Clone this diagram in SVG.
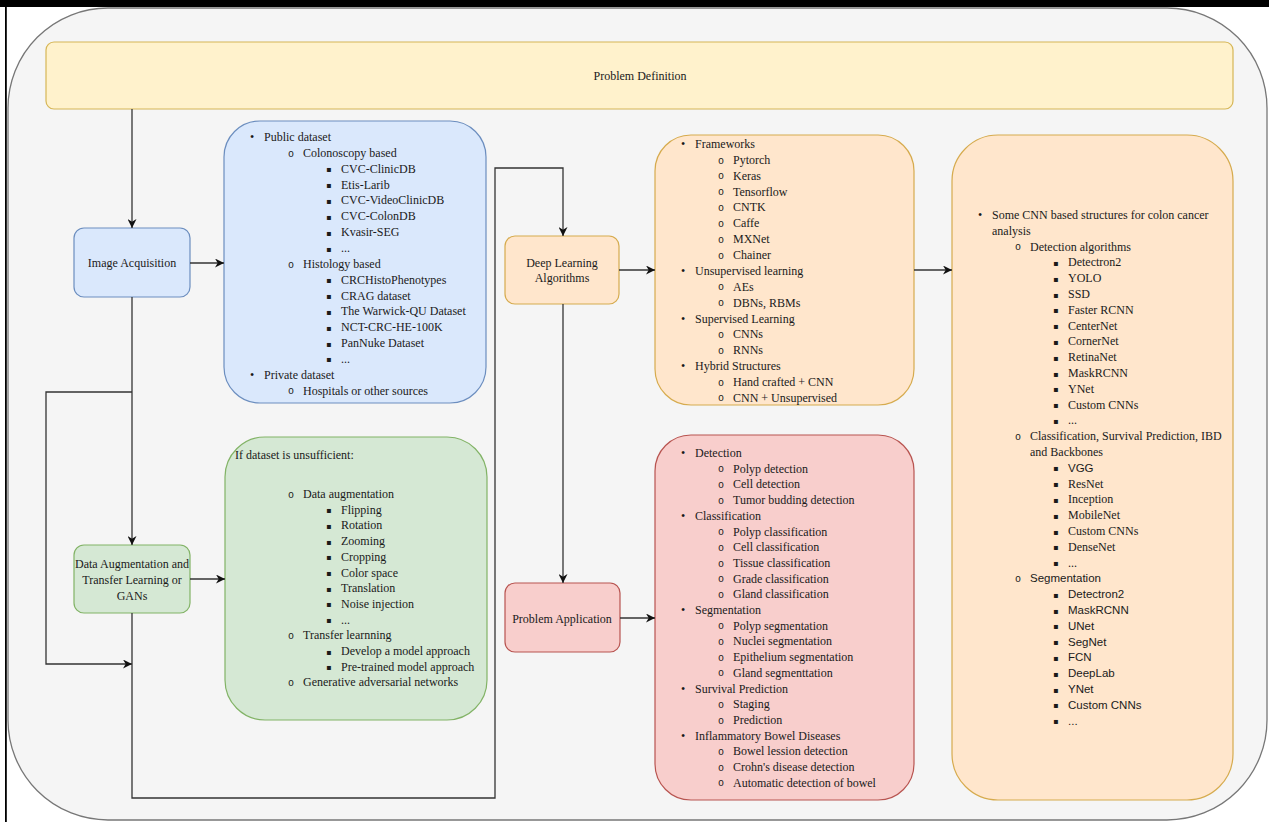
<svg xmlns="http://www.w3.org/2000/svg" width="1269" height="822" viewBox="0 0 1269 822">
<style>
.t{font-family:"Liberation Serif","Times New Roman",serif;font-size:12px;fill:#1a1a1a}
.s{font-family:"Liberation Sans",Arial,sans-serif;font-size:11.5px;fill:#1a1a1a}
.c{text-anchor:middle}
.b{font-family:"DejaVu Sans",sans-serif;font-size:8px;fill:#1a1a1a}
.o{font-family:"Liberation Mono","Courier New",monospace;font-size:10px;fill:#1a1a1a}
.ln{fill:none;stroke:#333;stroke-width:1.3}
.blue{fill:#dae8fc;stroke:#6c8ebf;stroke-width:1.2}
.green{fill:#d5e8d4;stroke:#82b366;stroke-width:1.2}
.orange{fill:#ffe6cc;stroke:#d6ab4e;stroke-width:1.2}
.yellow{fill:#fff2cc;stroke:#d6b656;stroke-width:1.2}
.red{fill:#f8cecc;stroke:#b85450;stroke-width:1.2}
</style>
<defs>
<marker id="arr" viewBox="0 0 10 10" refX="10" refY="5" markerWidth="9" markerHeight="9" markerUnits="userSpaceOnUse" orient="auto"><path d="M0,0 L10,5 L0,10 L3,5 z" fill="#111"/></marker>
</defs>
<rect x="0" y="0" width="1269" height="822" fill="#fff"/>
<rect x="0" y="0" width="1269" height="7" fill="#000"/>
<rect x="5" y="0" width="1.8" height="822" fill="#000"/>
<rect id="frame" x="8" y="8" width="1259" height="812" rx="100" fill="#f5f5f5" stroke="#777" stroke-width="1.3"/>

<g id="problem-definition">
<rect class="yellow" x="46" y="42" width="1187" height="67" rx="8"/>
<text class="t c" x="640" y="80">Problem Definition</text>
</g>

<g id="image-acquisition">
<rect class="blue" x="74" y="228" width="116" height="69" rx="10"/>
<text class="t c" x="132" y="267">Image Acquisition</text>
</g>

<g id="data-augmentation">
<rect class="green" x="74" y="545" width="116" height="68" rx="10"/>
<text class="t c" x="132" y="568">Data Augmentation and</text>
<text class="t c" x="132" y="584">Transfer Learning or</text>
<text class="t c" x="132" y="600">GANs</text>
</g>

<g id="deep-learning">
<rect class="orange" x="505" y="236" width="114" height="68" rx="10"/>
<text class="t c" x="562" y="267">Deep Learning</text>
<text class="t c" x="562" y="282">Algorithms</text>
</g>

<g id="problem-application">
<rect class="red" x="505" y="583" width="115" height="69" rx="10"/>
<text class="t c" x="562" y="623">Problem Application</text>
</g>

<g id="datasets">
<rect class="blue" x="224" y="121" width="262" height="282" rx="36"/>
<text class="t" x="250" y="141">•</text><text class="t" x="264" y="141">Public dataset</text>
<text class="o" x="288" y="156.5">o</text><text class="t" x="303" y="156.9">Colonoscopy based</text>
<text class="b" x="326" y="172.2">▪</text><text class="t" x="341" y="172.7">CVC-ClinicDB</text>
<text class="b" x="326" y="188.1">▪</text><text class="t" x="341" y="188.6">Etis-Larib</text>
<text class="b" x="326" y="203.9">▪</text><text class="t" x="341" y="204.4">CVC-VideoClinicDB</text>
<text class="b" x="326" y="219.8">▪</text><text class="t" x="341" y="220.3">CVC-ColonDB</text>
<text class="b" x="326" y="235.6">▪</text><text class="t" x="341" y="236.1">Kvasir-SEG</text>
<text class="b" x="326" y="251.5">▪</text><text class="t" x="341" y="252">...</text>
<text class="o" x="288" y="267.5">o</text><text class="t" x="303" y="267.9">Histology based</text>
<text class="b" x="326" y="283.2">▪</text><text class="t" x="341" y="283.7">CRCHistoPhenotypes</text>
<text class="b" x="326" y="299">▪</text><text class="t" x="341" y="299.5">CRAG dataset</text>
<text class="b" x="326" y="314.9">▪</text><text class="t" x="341" y="315.4">The Warwick-QU Dataset</text>
<text class="b" x="326" y="330.7">▪</text><text class="t" x="341" y="331.2">NCT-CRC-HE-100K</text>
<text class="b" x="326" y="346.6">▪</text><text class="t" x="341" y="347.1">PanNuke Dataset</text>
<text class="b" x="326" y="362.4">▪</text><text class="t" x="341" y="362.9">...</text>
<text class="t" x="250" y="378.8">•</text><text class="t" x="264" y="378.8">Private dataset</text>
<text class="o" x="288" y="394.3">o</text><text class="t" x="303" y="394.6">Hospitals or other sources</text>
</g>

<g id="augmentation-list">
<rect class="green" x="225" y="437" width="262" height="283" rx="40"/>
<text class="t" x="235" y="459">If dataset is unsufficient:</text>
<text class="o" x="288" y="497.6">o</text><text class="t" x="303" y="498">Data augmentation</text>
<text class="b" x="326" y="513.2">▪</text><text class="t" x="341" y="513.7">Flipping</text>
<text class="b" x="326" y="528.9">▪</text><text class="t" x="341" y="529.4">Rotation</text>
<text class="b" x="326" y="544.6">▪</text><text class="t" x="341" y="545.1">Zooming</text>
<text class="b" x="326" y="560.3">▪</text><text class="t" x="341" y="560.8">Cropping</text>
<text class="b" x="326" y="576">▪</text><text class="t" x="341" y="576.5">Color space</text>
<text class="b" x="326" y="591.7">▪</text><text class="t" x="341" y="592.2">Translation</text>
<text class="b" x="326" y="607.4">▪</text><text class="t" x="341" y="607.9">Noise injection</text>
<text class="b" x="326" y="623.1">▪</text><text class="t" x="341" y="623.6">...</text>
<text class="o" x="288" y="638.9">o</text><text class="t" x="303" y="639.3">Transfer learnning</text>
<text class="b" x="326" y="654.5">▪</text><text class="t" x="341" y="655">Develop a model approach</text>
<text class="b" x="326" y="670.2">▪</text><text class="t" x="341" y="670.7">Pre-trained model approach</text>
<text class="o" x="288" y="686">o</text><text class="t" x="303" y="686.4">Generative adversarial networks</text>
</g>

<g id="frameworks">
<rect class="orange" x="655" y="135" width="259" height="270" rx="36"/>
<text class="t" x="681" y="148">•</text><text class="t" x="695" y="148">Frameworks</text>
<text class="o" x="718" y="163.5">o</text><text class="t" x="733" y="163.9">Pytorch</text>
<text class="o" x="718" y="179.3">o</text><text class="t" x="733" y="179.7">Keras</text>
<text class="o" x="718" y="195.2">o</text><text class="t" x="733" y="195.6">Tensorflow</text>
<text class="o" x="718" y="211">o</text><text class="t" x="733" y="211.4">CNTK</text>
<text class="o" x="718" y="226.9">o</text><text class="t" x="733" y="227.3">Caffe</text>
<text class="o" x="718" y="242.7">o</text><text class="t" x="733" y="243.1">MXNet</text>
<text class="o" x="718" y="258.6">o</text><text class="t" x="733" y="259">Chainer</text>
<text class="t" x="681" y="274.8">•</text><text class="t" x="695" y="274.8">Unsupervised learning</text>
<text class="o" x="718" y="290.3">o</text><text class="t" x="733" y="290.7">AEs</text>
<text class="o" x="718" y="306.2">o</text><text class="t" x="733" y="306.6">DBNs, RBMs</text>
<text class="t" x="681" y="322.5">•</text><text class="t" x="695" y="322.5">Supervised Learning</text>
<text class="o" x="718" y="337.9">o</text><text class="t" x="733" y="338.3">CNNs</text>
<text class="o" x="718" y="353.8">o</text><text class="t" x="733" y="354.2">RNNs</text>
<text class="t" x="681" y="370">•</text><text class="t" x="695" y="370">Hybrid Structures</text>
<text class="o" x="718" y="385.5">o</text><text class="t" x="733" y="385.9">Hand crafted + CNN</text>
<text class="o" x="718" y="401.3">o</text><text class="t" x="733" y="401.7">CNN + Unsupervised</text>
</g>

<g id="applications">
<rect class="red" x="655" y="435" width="259" height="365" rx="36"/>
<text class="t" x="681" y="457">•</text><text class="t" x="695" y="457">Detection</text>
<text class="o" x="718" y="472.3">o</text><text class="t" x="733" y="472.7">Polyp detection</text>
<text class="o" x="718" y="488">o</text><text class="t" x="733" y="488.4">Cell detection</text>
<text class="o" x="718" y="503.7">o</text><text class="t" x="733" y="504.1">Tumor budding detection</text>
<text class="t" x="681" y="519.8">•</text><text class="t" x="695" y="519.8">Classification</text>
<text class="o" x="718" y="535.1">o</text><text class="t" x="733" y="535.5">Polyp classification</text>
<text class="o" x="718" y="550.8">o</text><text class="t" x="733" y="551.2">Cell classification</text>
<text class="o" x="718" y="566.5">o</text><text class="t" x="733" y="566.9">Tissue classification</text>
<text class="o" x="718" y="582.2">o</text><text class="t" x="733" y="582.6">Grade classification</text>
<text class="o" x="718" y="597.9">o</text><text class="t" x="733" y="598.3">Gland classification</text>
<text class="t" x="681" y="614">•</text><text class="t" x="695" y="614">Segmentation</text>
<text class="o" x="718" y="629.3">o</text><text class="t" x="733" y="629.7">Polyp segmentation</text>
<text class="o" x="718" y="645">o</text><text class="t" x="733" y="645.4">Nuclei segmentation</text>
<text class="o" x="718" y="660.7">o</text><text class="t" x="733" y="661.1">Epithelium segmentation</text>
<text class="o" x="718" y="676.4">o</text><text class="t" x="733" y="676.8">Gland segmenttation</text>
<text class="t" x="681" y="692.5">•</text><text class="t" x="695" y="692.5">Survival Prediction</text>
<text class="o" x="718" y="707.8">o</text><text class="t" x="733" y="708.2">Staging</text>
<text class="o" x="718" y="723.5">o</text><text class="t" x="733" y="723.9">Prediction</text>
<text class="t" x="681" y="739.6">•</text><text class="t" x="695" y="739.6">Inflammatory Bowel Diseases</text>
<text class="o" x="718" y="754.9">o</text><text class="t" x="733" y="755.3">Bowel lession detection</text>
<text class="o" x="718" y="770.6">o</text><text class="t" x="733" y="771">Crohn's disease detection</text>
<text class="o" x="718" y="786.3">o</text><text class="t" x="733" y="786.7">Automatic detection of bowel</text>
</g>

<g id="cnn-structures">
<rect class="orange" x="952" y="135" width="281" height="665" rx="46"/>
<text class="t" x="978" y="219">•</text><text class="t" x="992" y="219">Some CNN based structures for colon cancer</text>
<text class="t" x="992" y="234.8">analysis</text>
<text class="o" x="1015" y="250.2">o</text><text class="t" x="1030" y="250.6">Detection algorithms</text>
<text class="b" x="1053" y="266">▪</text><text class="t" x="1068" y="266.4">Detectron2</text>
<text class="b" x="1053" y="281.8">▪</text><text class="t" x="1068" y="282.2">YOLO</text>
<text class="b" x="1053" y="297.6">▪</text><text class="t" x="1068" y="298">SSD</text>
<text class="b" x="1053" y="313.4">▪</text><text class="t" x="1068" y="313.8">Faster RCNN</text>
<text class="b" x="1053" y="329.2">▪</text><text class="t" x="1068" y="329.6">CenterNet</text>
<text class="b" x="1053" y="345">▪</text><text class="t" x="1068" y="345.4">CornerNet</text>
<text class="b" x="1053" y="360.8">▪</text><text class="t" x="1068" y="361.2">RetinaNet</text>
<text class="b" x="1053" y="376.6">▪</text><text class="t" x="1068" y="377">MaskRCNN</text>
<text class="b" x="1053" y="392.4">▪</text><text class="t" x="1068" y="392.8">YNet</text>
<text class="b" x="1053" y="408.2">▪</text><text class="t" x="1068" y="408.6">Custom CNNs</text>
<text class="b" x="1053" y="424">▪</text><text class="t" x="1068" y="424.4">...</text>
<text class="o" x="1015" y="439.8">o</text><text class="t" x="1030" y="440.2">Classification, Survival Prediction, IBD</text>
<text class="t" x="1030" y="456">and Backbones</text>
<text class="b" x="1053" y="471.4">▪</text><text class="s" x="1068" y="471.8">VGG</text>
<text class="b" x="1053" y="487.2">▪</text><text class="t" x="1068" y="487.6">ResNet</text>
<text class="b" x="1053" y="503">▪</text><text class="t" x="1068" y="503.4">Inception</text>
<text class="b" x="1053" y="518.8">▪</text><text class="t" x="1068" y="519.2">MobileNet</text>
<text class="b" x="1053" y="534.6">▪</text><text class="t" x="1068" y="535">Custom CNNs</text>
<text class="b" x="1053" y="550.4">▪</text><text class="t" x="1068" y="550.8">DenseNet</text>
<text class="b" x="1053" y="566.2">▪</text><text class="t" x="1068" y="566.6">...</text>
<text class="o" x="1015" y="582">o</text><text class="s" x="1030" y="582.4">Segmentation</text>
<text class="b" x="1053" y="597.8">▪</text><text class="s" x="1068" y="598.2">Detectron2</text>
<text class="b" x="1053" y="613.6">▪</text><text class="s" x="1068" y="614">MaskRCNN</text>
<text class="b" x="1053" y="629.4">▪</text><text class="s" x="1068" y="629.8">UNet</text>
<text class="b" x="1053" y="645.2">▪</text><text class="s" x="1068" y="645.6">SegNet</text>
<text class="b" x="1053" y="661">▪</text><text class="s" x="1068" y="661.4">FCN</text>
<text class="b" x="1053" y="676.8">▪</text><text class="s" x="1068" y="677.2">DeepLab</text>
<text class="b" x="1053" y="692.6">▪</text><text class="s" x="1068" y="693">YNet</text>
<text class="b" x="1053" y="708.4">▪</text><text class="s" x="1068" y="708.8">Custom CNNs</text>
<text class="b" x="1053" y="724.2">▪</text><text class="s" x="1068" y="724.6">...</text>
</g>

<g id="connectors">
<path class="ln" d="M132 109 V228" marker-end="url(#arr)"/>
<path class="ln" d="M190 263 H224" marker-end="url(#arr)"/>
<path class="ln" d="M132 297 V545" marker-end="url(#arr)"/>
<path class="ln" d="M132 392 H46 V664 H132" marker-end="url(#arr)"/>
<path class="ln" d="M190 579 H225" marker-end="url(#arr)"/>
<path class="ln" d="M132 613 V798 H495 V168 H563 V236" marker-end="url(#arr)"/>
<path class="ln" d="M619 270 H655" marker-end="url(#arr)"/>
<path class="ln" d="M563 304 V583" marker-end="url(#arr)"/>
<path class="ln" d="M620 618 H655" marker-end="url(#arr)"/>
<path class="ln" d="M914 270 H952" marker-end="url(#arr)"/>
</g>
</svg>
